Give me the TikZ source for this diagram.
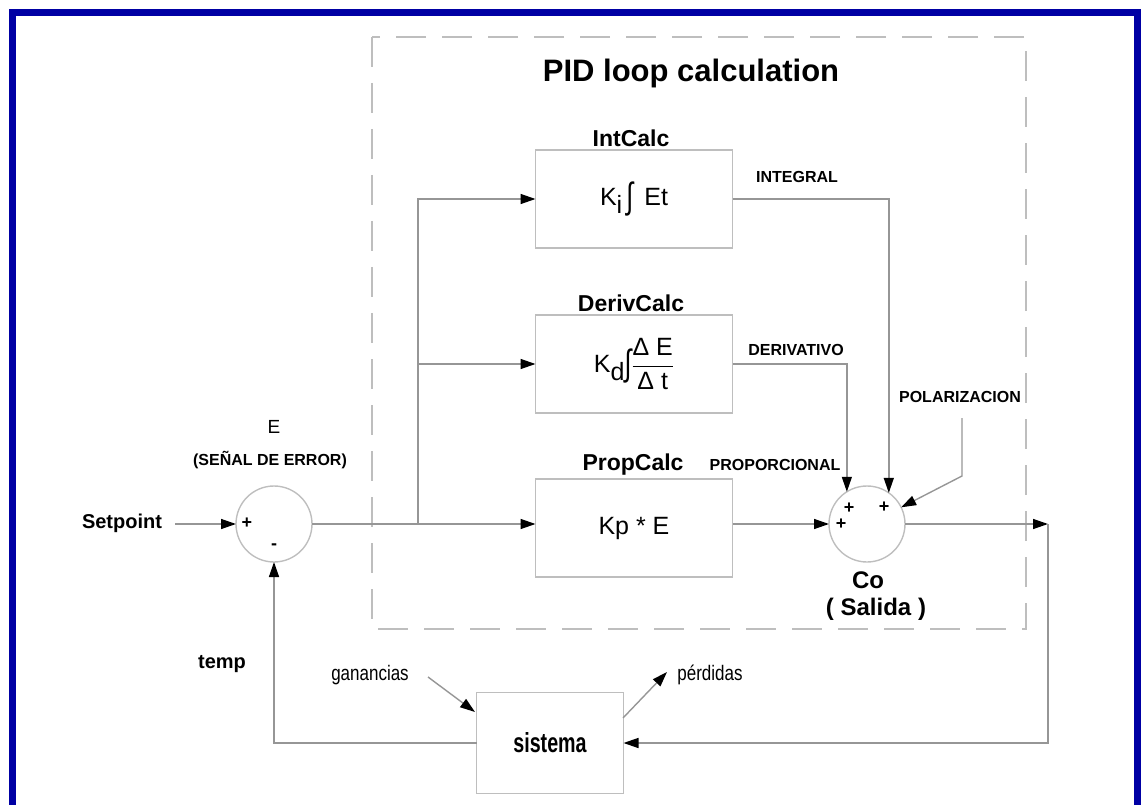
\documentclass[tikz,border=0pt]{standalone}
\usepackage{fontspec}
\setmainfont{Liberation Sans}
\usetikzlibrary{arrows.meta,calc}
\definecolor{frameblue}{RGB}{0,0,164}
\definecolor{linegray}{RGB}{150,150,150}
\definecolor{dashgray}{RGB}{190,190,190}
\newcommand{\myint}{\raisebox{-3pt}{\scalebox{1}[1.45]{∫}}}
\begin{document}
\begin{tikzpicture}[x=1pt,y=-1pt,
  every node/.style={inner sep=0pt, outer sep=0pt},
  conn/.style={draw=linegray, line width=1.4pt},
  arr/.style={conn, -{Triangle[length=15pt,width=10pt,fill=black,color=black]}},
  blk/.style={draw=dashgray, line width=1.6pt, minimum width=197pt, minimum height=98pt, font=\fontsize{25}{28}\selectfont},
  sumc/.style={draw=dashgray, line width=1.4pt, circle, minimum size=76pt},
  blabel/.style={font=\fontsize{23}{26}\selectfont\bfseries},
  sig/.style={font=\fontsize{16}{18}\selectfont\bfseries},
  txt/.style={font=\fontsize{20}{22}\selectfont\bfseries},
  pm/.style={font=\fontsize{18}{18}\selectfont\bfseries}
]
\useasboundingbox (0,0) rectangle (1144,805);
% outer blue frame
\draw[frameblue, line width=7pt] (12.5,12.5) rectangle (1137.5,830);
% dashed PID region
\draw[dashgray, line width=1.6pt, dash pattern=on 30pt off 16pt] (372,37) rectangle (1026,629);
\node[font=\fontsize{31}{33}\selectfont\bfseries] (title) at (691,73) {PID loop calculation};

% blocks
\node[blk] (I) at (634,199) {K\raisebox{-8pt}{i}\,\myint\, Et};
\node[blabel] (Il) at (631,138) {IntCalc};
\node[blk] (D) at (634,364) {K\raisebox{-8pt}{d}\myint$\displaystyle\frac{\mbox{Δ E}}{\mbox{Δ t}}$};
\node[blabel] (Dl) at (631,303) {DerivCalc};
\node[blk] (P) at (634,528) {Kp * E};
\node[blabel] (Pl) at (633,465) {PropCalc};

% summing junctions
\node[sumc] (E) at (274,524) {};
\node[sumc] (Co) at (867,524) {};
\node[pm] (Ep) at (247,523) {+};
\node[pm] (Em) at (274,547) {-};
\node[pm] (c1) at (841,524) {+};
\node[pm] (c2) at (849,508) {+};
\node[pm] (c3) at (884,507) {+};

\node[font=\fontsize{19}{20}\selectfont] (El) at (274,427) {E};
\node[sig] (El2) at (270,460) {(SEÑAL DE ERROR)};
\node[font=\fontsize{24}{26}\selectfont\bfseries] (Col) at (868,580) {Co};
\node[font=\fontsize{24}{26}\selectfont\bfseries] (Col2) at (876,609) {( Salida )};

% signal labels
\node[sig] (intl) at (797,177) {INTEGRAL};
\node[sig] (derl) at (796,350) {DERIVATIVO};
\node[sig] (propl) at (775,465) {PROPORCIONAL};
\node[sig] (poll) at (960,397) {POLARIZACION};

% plant
\node[draw=dashgray, line width=1.6pt, minimum width=147pt, minimum height=101pt, font=\fontsize{24}{26}\selectfont\bfseries] (S) at (550,743) {\scalebox{0.82}[1.15]{sistema}};
\node[txt] (sp) at (122,523) {Setpoint};
\node[txt] (temp) at (222,664) {temp};
\node[font=\fontsize{20}{21}\selectfont] (gan) at (370,675) {\scalebox{0.85}[1.05]{ganancias}};
\node[font=\fontsize{20}{21}\selectfont] (per) at (710,675) {\scalebox{0.85}[1.05]{pérdidas}};

% coordinates
\coordinate (j) at (418,524);
\coordinate (out) at (1048,524);
\coordinate (polA) at (962,418);
\coordinate (polB) at (962,476);
\coordinate (gA) at (428,677);
\coordinate (gB) at (475,712);
\coordinate (pA) at (623,718);
\coordinate (pB) at (667,672);
\coordinate (spA) at (175,524);

% connectors
\draw[arr] (spA) -- (E.west);
\draw[conn] (E.east) -- (j);
\draw[arr] (j) -- (j -| P.west);
\draw[arr] (j) |- (I.west);
\draw[arr] (j |- D.west) -- (D.west);
\draw[arr] (I.east) -| (Co.55);
\draw[arr] (D.east) -| (Co.122);
\draw[arr] (P.east |- j) -- (Co.west);
\draw[arr] (polA) -- (polB) -- (Co.26);
\draw[arr] (Co.east) -- (out);
\draw[arr] (out) |- (S.east);
\draw[arr] (S.west) -| (E.south);
\draw[arr] (gA) -- (gB);
\draw[arr] (pA) -- (pB);
\end{tikzpicture}
\end{document}
